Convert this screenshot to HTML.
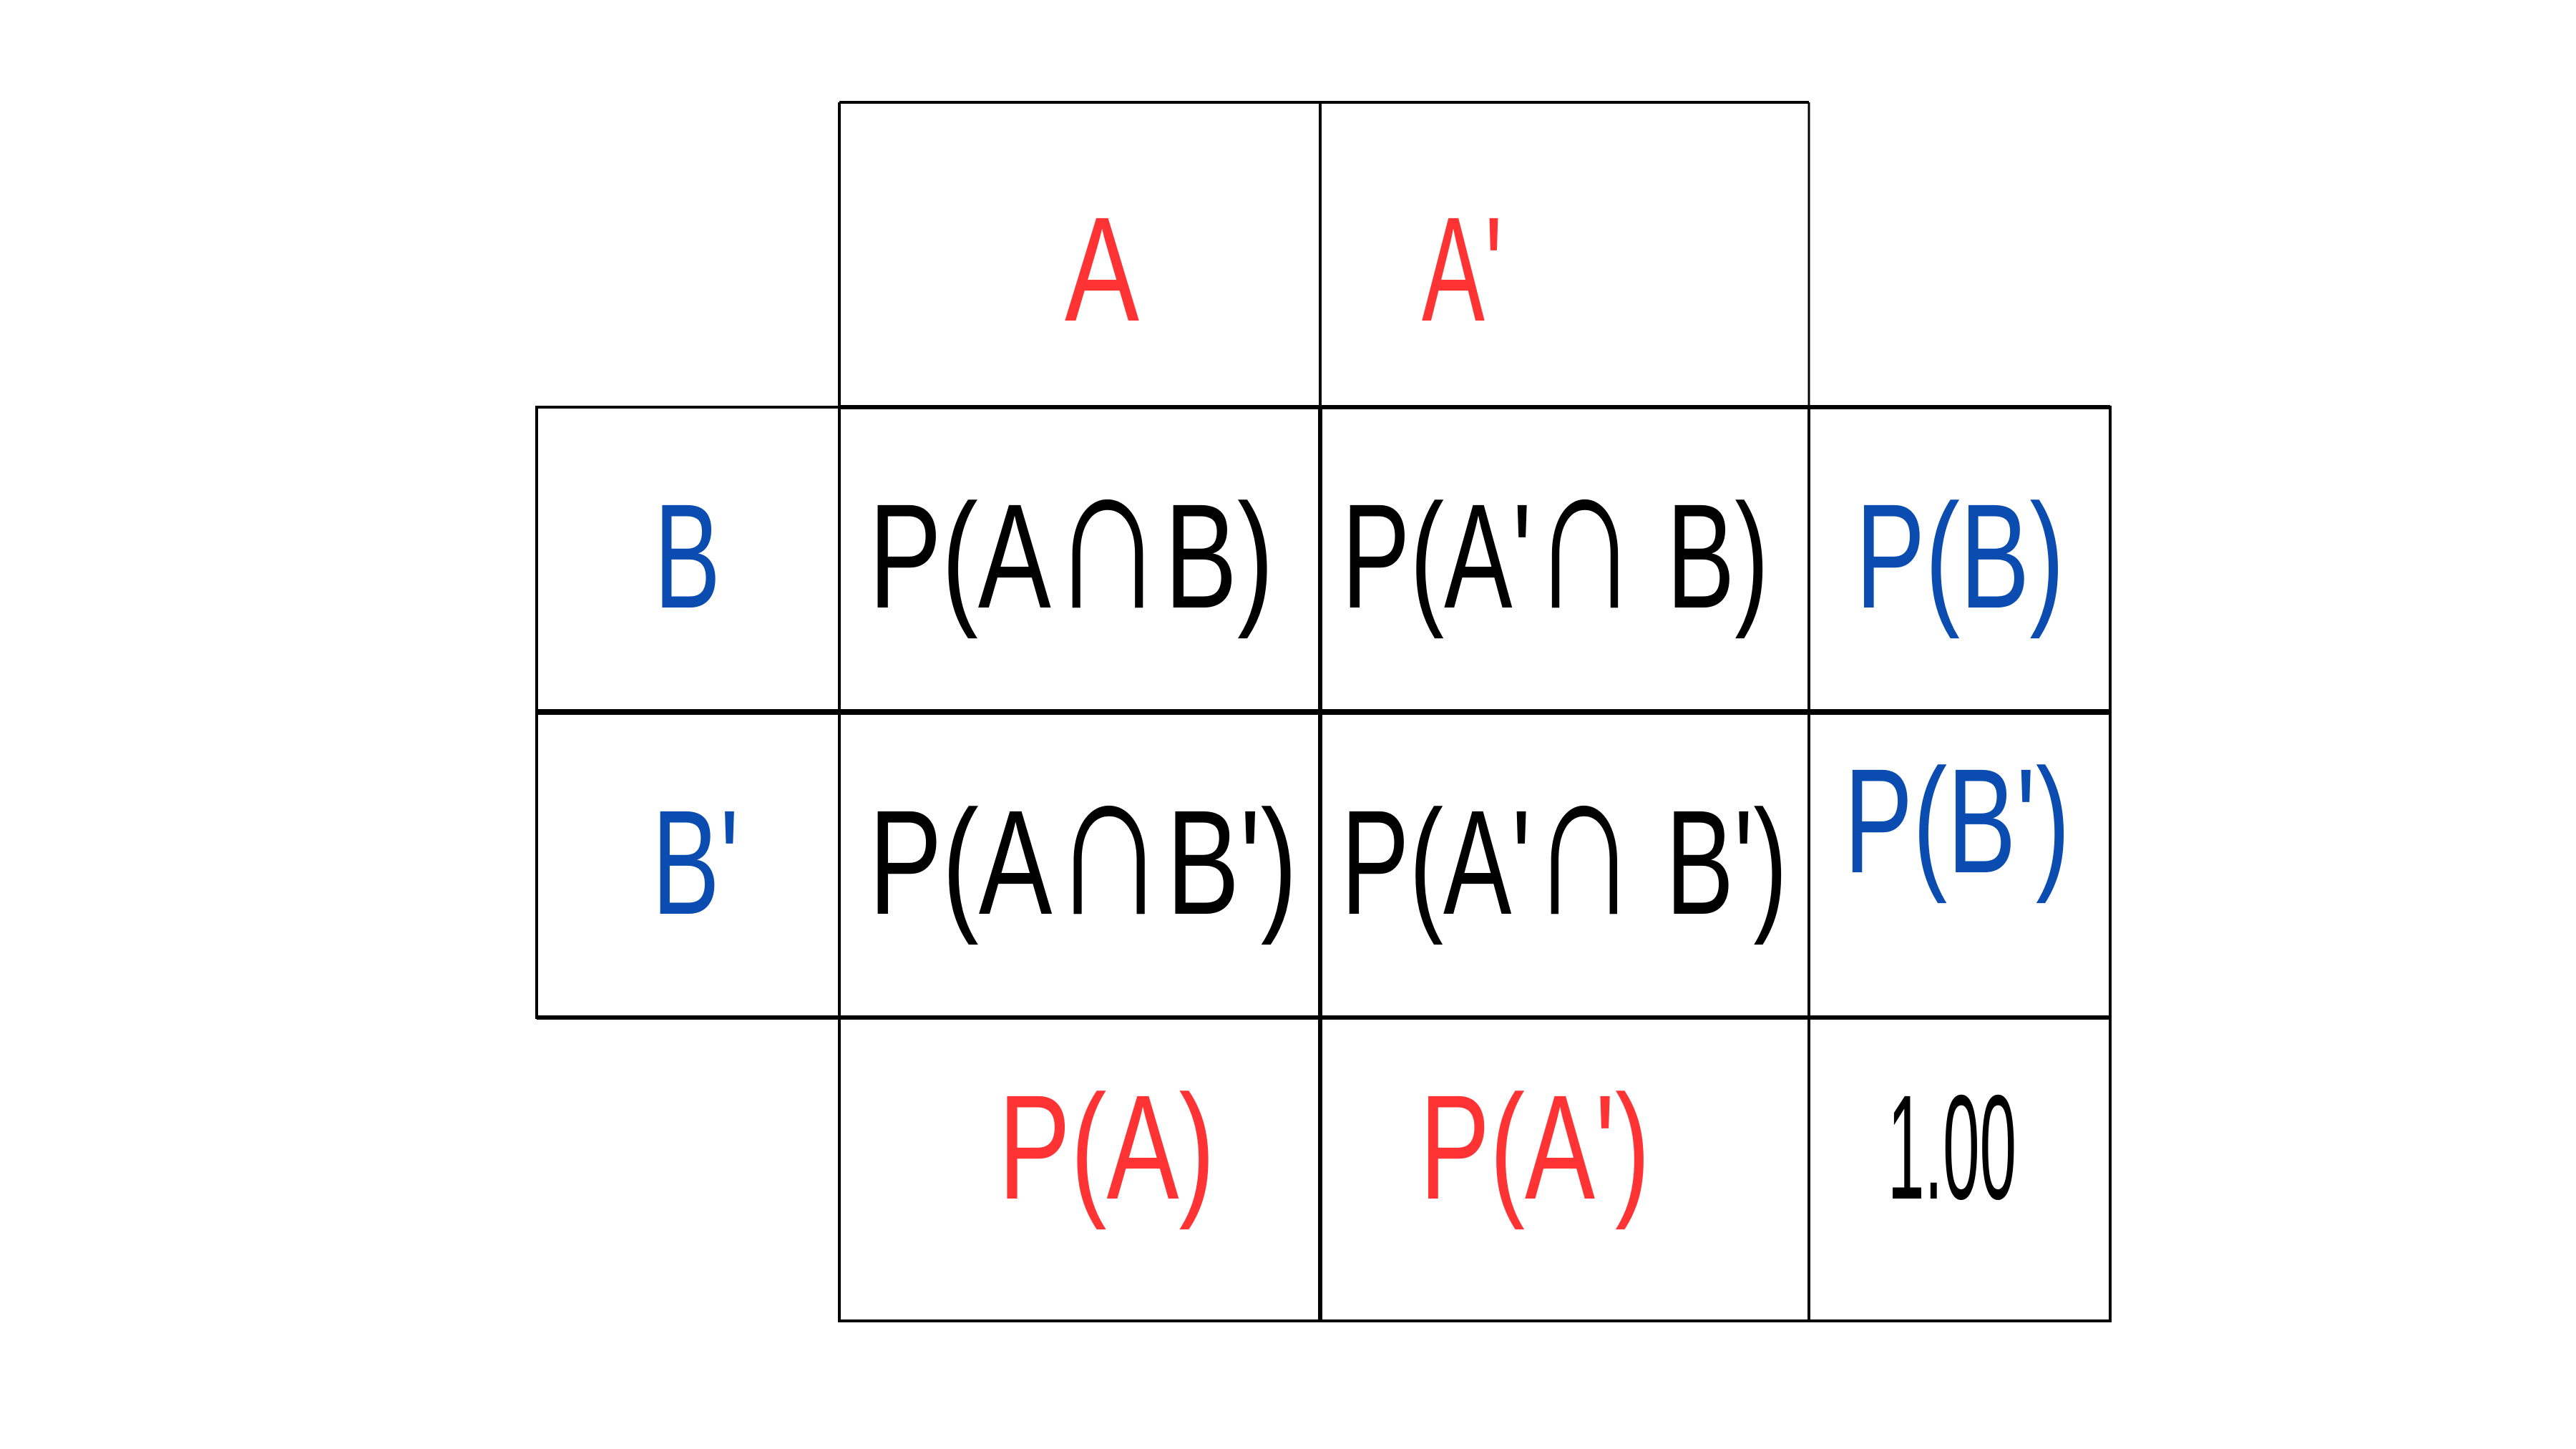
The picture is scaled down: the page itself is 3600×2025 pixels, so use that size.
<!DOCTYPE html>
<html><head><meta charset="utf-8"><style>
html,body{margin:0;padding:0;background:#fff;}
svg{display:block;}
text{font-family:"Liberation Sans","DejaVu Sans",sans-serif;font-size:208px;}
.r{fill:#ff3333}.b{fill:#0a4cb0}.k{fill:#000}
.cap{font-size:300px;}
</style></head><body>
<svg width="3600" height="2025" viewBox="0 0 3600 2025" xmlns="http://www.w3.org/2000/svg">
<rect width="3600" height="2025" fill="#fff"/>
<g stroke="#000" stroke-width="4" fill="none">
  <line x1="1173" y1="143" x2="2528" y2="143"/>
  <line x1="1173" y1="143" x2="1173" y2="569"/>
  <line x1="1845" y1="143" x2="1845" y2="569"/>
  <line x1="2528" y1="143" x2="2528" y2="569" stroke-width="3"/>
  <rect x="750" y="569" width="423" height="853"/>
  <rect x="1173" y="569" width="1776" height="1277"/>
  <line x1="1845" y1="569" x2="1845" y2="1846" stroke-width="6"/>
  <line x1="2528" y1="569" x2="2528" y2="1846"/>
  <line x1="1173" y1="569" x2="2949" y2="569" stroke-width="6"/>
  <line x1="750" y1="995" x2="2949" y2="995" stroke-width="8"/>
  <line x1="750" y1="1422" x2="2949" y2="1422" stroke-width="6"/>
</g>
<text class="r" x="1488" y="448" textLength="104" lengthAdjust="spacingAndGlyphs">A</text>
<text class="r" x="1987" y="448" textLength="113" lengthAdjust="spacingAndGlyphs">A'</text>
<text class="b" x="914" y="849" textLength="93" lengthAdjust="spacingAndGlyphs">B</text>
<text class="k" x="1214" y="849" textLength="566" lengthAdjust="spacingAndGlyphs">P(A<tspan class="cap">∩</tspan>B)</text>
<text class="k" x="1875" y="849" textLength="597" lengthAdjust="spacingAndGlyphs">P(A'<tspan class="cap">∩</tspan> B)</text>
<text class="b" x="2593" y="849" textLength="292" lengthAdjust="spacingAndGlyphs">P(B)</text>
<text class="b" x="911" y="1277" textLength="122" lengthAdjust="spacingAndGlyphs">B'</text>
<text class="k" x="1214" y="1277" textLength="599" lengthAdjust="spacingAndGlyphs">P(A<tspan class="cap">∩</tspan>B')</text>
<text class="k" x="1874" y="1277" textLength="624" lengthAdjust="spacingAndGlyphs">P(A'<tspan class="cap">∩</tspan> B')</text>
<text class="b" x="2577" y="1219" textLength="316" lengthAdjust="spacingAndGlyphs">P(B')</text>
<text class="r" x="1395" y="1675" textLength="303" lengthAdjust="spacingAndGlyphs">P(A)</text>
<text class="r" x="1984" y="1675" textLength="322" lengthAdjust="spacingAndGlyphs">P(A')</text>
<text class="k" x="2638" y="1675" textLength="180" lengthAdjust="spacingAndGlyphs">1.00</text>
</svg>
</body></html>
